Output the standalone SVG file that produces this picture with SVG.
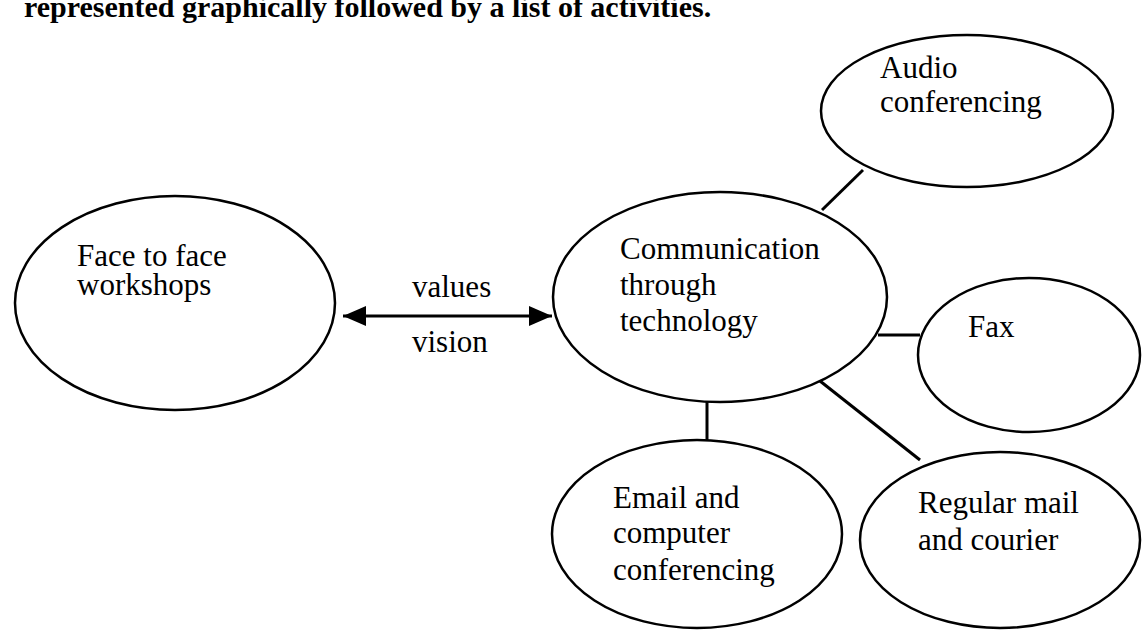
<svg xmlns="http://www.w3.org/2000/svg" width="1142" height="632" viewBox="0 0 1142 632">
  <style>
    .node { fill: none; stroke: #000; stroke-width: 2.5; }
    .label { font-family: "Liberation Serif", "Times New Roman", serif; font-size: 31px; fill: #000; }
    .head { font-family: "Liberation Serif", "Times New Roman", serif; font-size: 30px; font-weight: bold; fill: #000; }
    .link { stroke: #000; stroke-width: 3; fill: none; }
  </style>
  <defs>
    <!-- solid triangular head, reversed at the start of a path -->
    <marker id="arrow" viewBox="0 0 23 20" refX="23" refY="10" markerWidth="23" markerHeight="20" markerUnits="userSpaceOnUse" orient="auto-start-reverse">
      <path d="M0,0 L23,10 L0,20 Z" fill="#000"/>
    </marker>
  </defs>
  <rect width="1142" height="632" fill="#fff"/>

  <!-- running text above the diagram -->
  <text class="head" x="24" y="17">represented graphically followed by a list of activities.</text>

  <!-- connectors -->
  <g id="connectors">
    <line class="link" x1="343" y1="316" x2="552" y2="316" marker-start="url(#arrow)" marker-end="url(#arrow)"/>
    <line class="link" x1="822" y1="210" x2="863" y2="170"/>
    <line class="link" x1="878" y1="335" x2="920" y2="335"/>
    <line class="link" x1="820" y1="381" x2="920" y2="460"/>
    <line class="link" x1="707" y1="402" x2="707" y2="440"/>
    <text class="label" x="412" y="297">values</text>
    <text class="label" x="412" y="352">vision</text>
  </g>

  <g id="face-to-face">
    <ellipse class="node" cx="175" cy="303" rx="160" ry="107"/>
    <text class="label" x="77" y="266">Face to face</text>
    <text class="label" x="77" y="295">workshops</text>
  </g>

  <g id="communication">
    <ellipse class="node" cx="720" cy="297" rx="167" ry="105"/>
    <text class="label" x="620" y="259">Communication</text>
    <text class="label" x="620" y="295">through</text>
    <text class="label" x="620" y="331">technology</text>
  </g>

  <g id="audio">
    <ellipse class="node" cx="967" cy="111" rx="146" ry="76"/>
    <text class="label" x="880" y="78">Audio</text>
    <text class="label" x="880" y="112">conferencing</text>
  </g>

  <g id="fax">
    <ellipse class="node" cx="1029" cy="355" rx="111" ry="77"/>
    <text class="label" x="968" y="337">Fax</text>
  </g>

  <g id="email">
    <ellipse class="node" cx="697" cy="534" rx="145" ry="94"/>
    <text class="label" x="613" y="508">Email and</text>
    <text class="label" x="613" y="543">computer</text>
    <text class="label" x="613" y="580">conferencing</text>
  </g>

  <g id="mail">
    <ellipse class="node" cx="1000" cy="540" rx="140" ry="88"/>
    <text class="label" x="918" y="513">Regular mail</text>
    <text class="label" x="918" y="550">and courier</text>
  </g>
</svg>
